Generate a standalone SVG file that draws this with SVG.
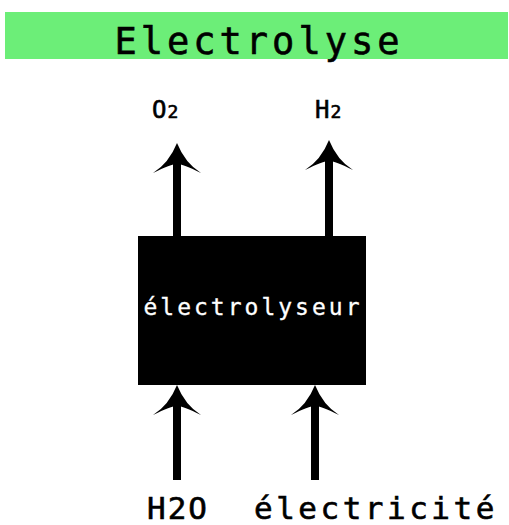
<svg xmlns="http://www.w3.org/2000/svg" width="509" height="525" viewBox="0 0 509 525">
<style>
.t{font-family:"DejaVu Sans Mono","Liberation Mono",monospace;fill:#000;stroke:#000;stroke-width:0.6}
.w{fill:#fff;stroke:#fff;stroke-width:0.3}
.shaft{stroke:#000;stroke-width:8;fill:none}
</style>
<defs>
<path id="head" d="M0,0 Q-8,20 -24,30 Q-6,21 0,21 Q6,21 24,30 Q8,20 0,0 Z" fill="#000"/>
</defs>
<rect width="509" height="525" fill="#fff"/>
<g id="title">
<rect x="5" y="12" width="503" height="47" fill="#6cee78"/>
<text class="t" x="259" y="54" font-size="37" letter-spacing="4" text-anchor="middle">Electrolyse</text>
</g>
<g id="electrolyseur">
<rect x="138" y="236" width="228" height="149" fill="#000"/>
<text class="t w" x="253" y="315" font-size="23" letter-spacing="3" text-anchor="middle">électrolyseur</text>
</g>
<g id="o2"><text class="t" x="152" y="118" font-size="24">O<tspan font-size="18" dx="1">2</tspan></text></g>
<g id="h2"><text class="t" x="315" y="118" font-size="24">H<tspan font-size="18" dx="1">2</tspan></text></g>
<g id="h2o"><text class="t" x="147" y="519" font-size="31" letter-spacing="2">H2O</text></g>
<g id="electricite"><text class="t" x="254" y="519" font-size="31" letter-spacing="3.5">électricité</text></g>
<g id="connectors">
<line class="shaft" x1="177" y1="236" x2="177" y2="160"/>
<use href="#head" x="177" y="143"/>
<line class="shaft" x1="329" y1="236" x2="329" y2="157"/>
<use href="#head" x="329" y="140"/>
<line class="shaft" x1="177" y1="480" x2="177" y2="400"/>
<use href="#head" x="177" y="385"/>
<line class="shaft" x1="315" y1="480" x2="315" y2="400"/>
<use href="#head" x="315" y="385"/>
</g>
</svg>
